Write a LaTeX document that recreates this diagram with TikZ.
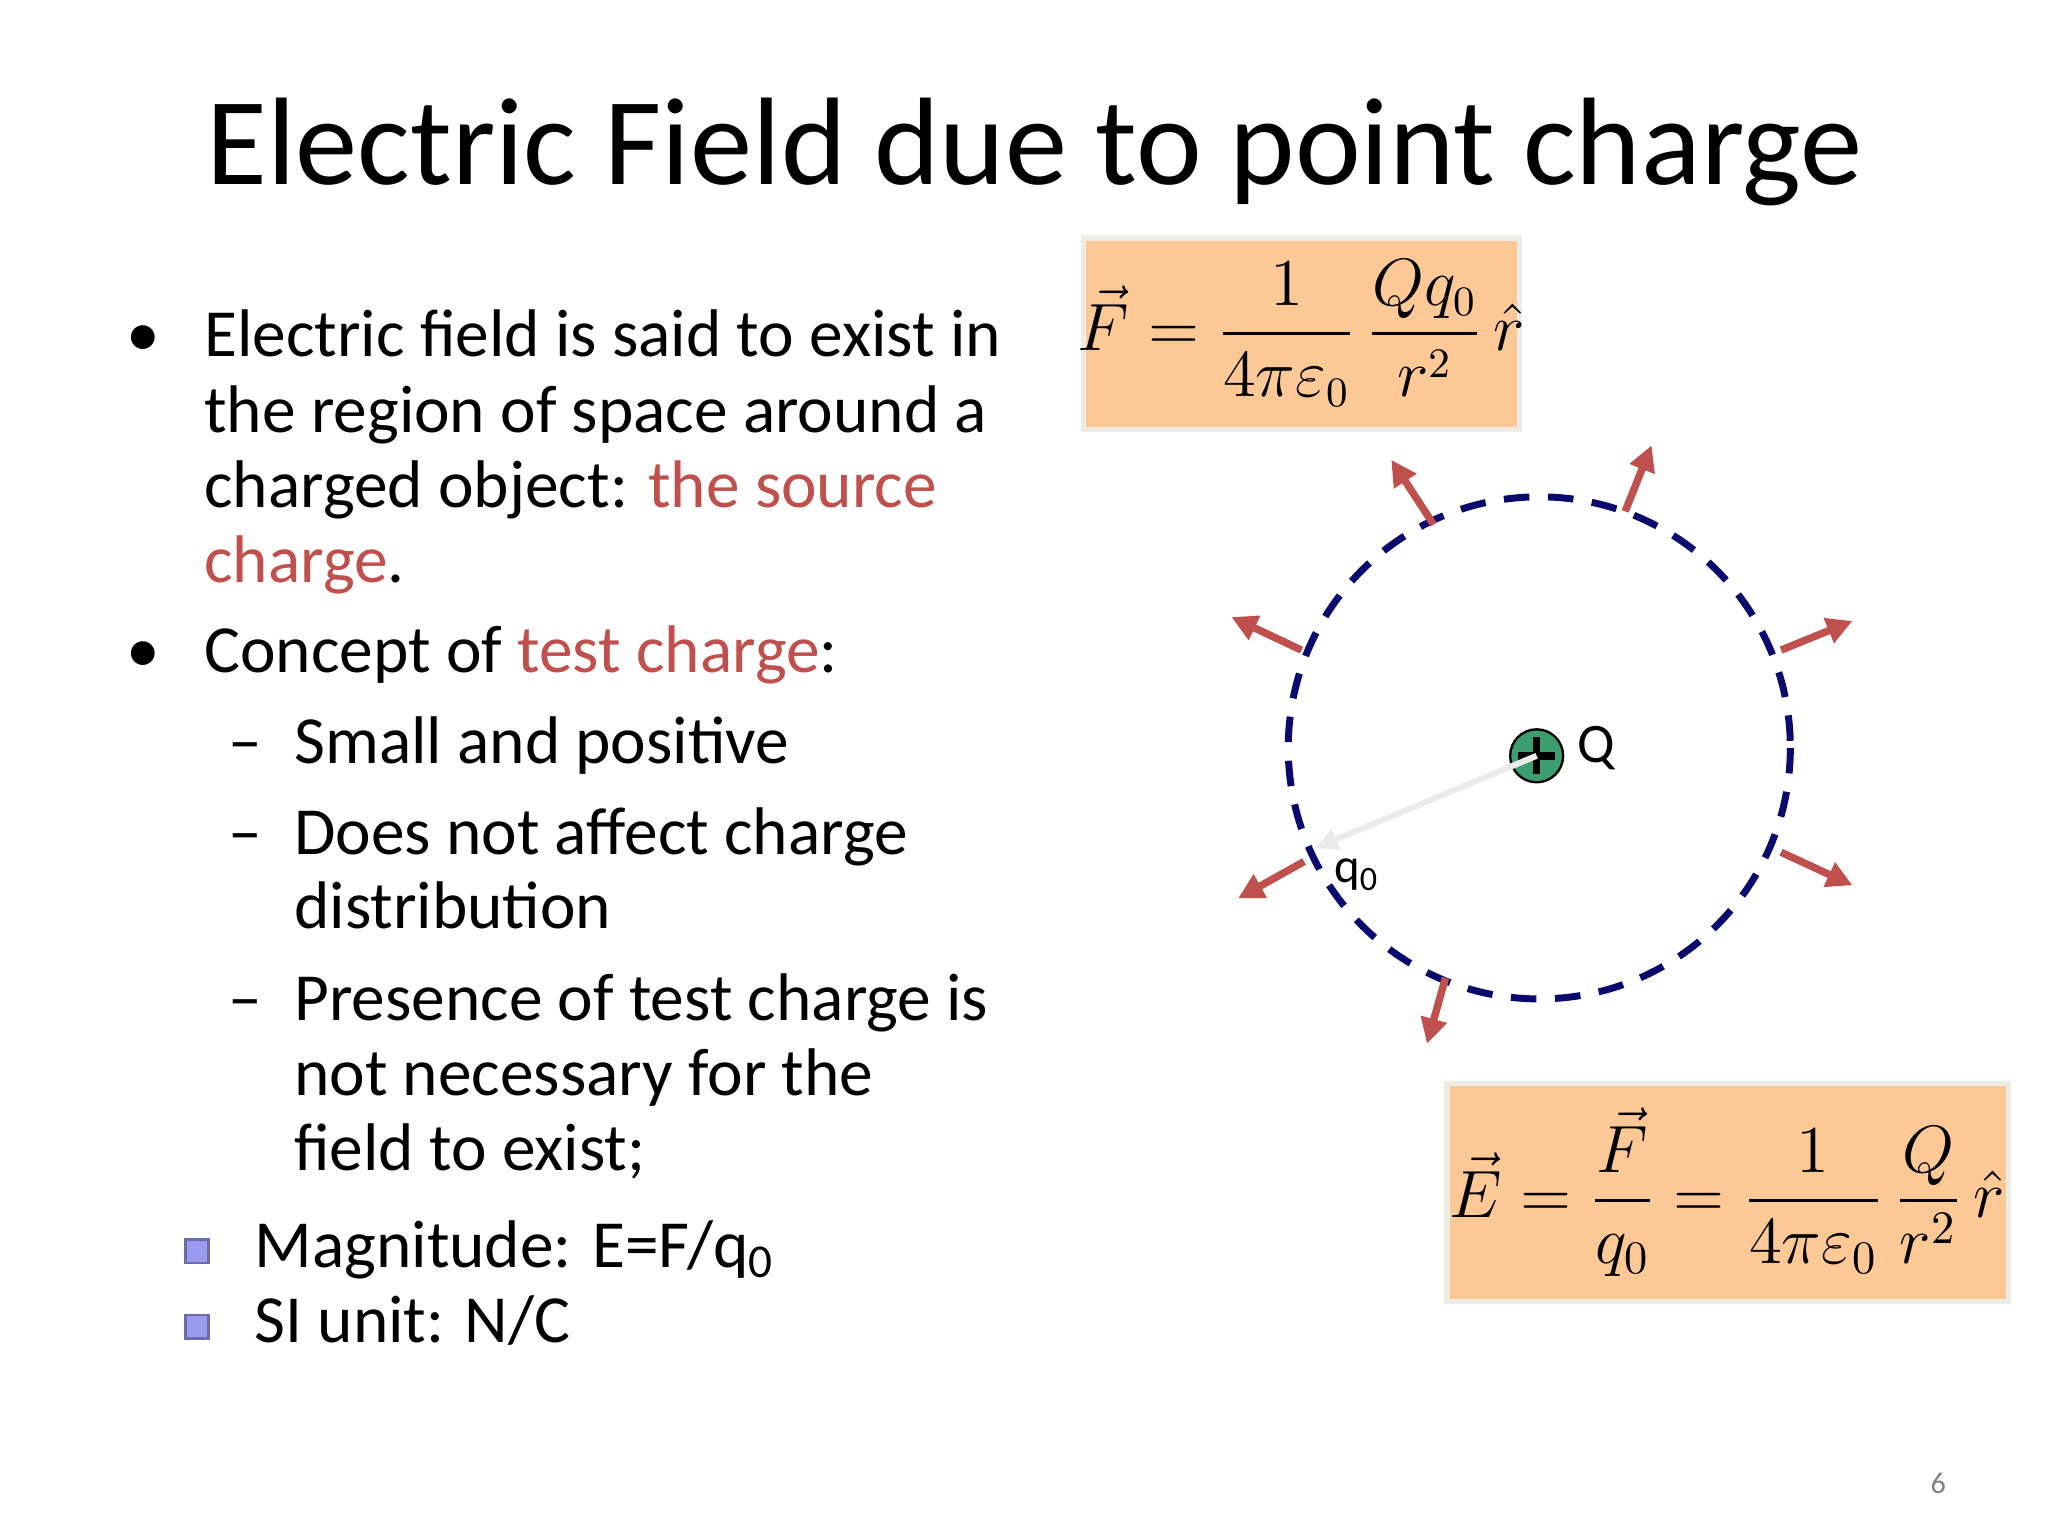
\documentclass[tikz,border=0pt]{standalone}
\usepackage{amsmath}
\usepackage{fontspec}
\setmainfont{Carlito}
\usetikzlibrary{arrows.meta}
\definecolor{accent}{HTML}{C0504D}
\definecolor{boxfill}{HTML}{FCC896}
\definecolor{boxline}{HTML}{EDEDE6}
\definecolor{navy}{HTML}{0A0A6E}
\definecolor{qgreen}{HTML}{3A9E6E}
\definecolor{sqb}{HTML}{9A9AF0}
\begin{document}
\begin{tikzpicture}[x=0.01cm,y=-0.01cm,
  body/.style={anchor=base west,inner sep=0pt,font=\fontsize{14.5}{16}\selectfont},
  fbox/.style={draw=boxline,line width=1.2pt,fill=boxfill},
  sqbul/.style={draw=sqb!70!black,fill=sqb,minimum size=5pt,inner sep=0pt,line width=0.6pt},
  farrow/.style={draw=accent,line width=1.6pt,-{Triangle[length=5.5pt,width=5.5pt]}}]
\useasboundingbox (0,0) rectangle (1550,1162);
\node[inner sep=0pt,font=\fontsize{26.8}{30}\selectfont] (title) at (783,115) {Electric Field due to point charge};
% bullets
\node[body] (d1) at (95,270) {•};
\node[body] (l1) at (154,270) {Electric field is said to exist in};
\node[body] (l2) at (154,327) {the region of space around a};
\node[body] (l3) at (154,384) {charged object: \textcolor{accent}{the source}};
\node[body] (l4) at (154,441) {\textcolor{accent}{charge}.};
\node[body] (d2) at (95,509) {•};
\node[body] (l5) at (154,509) {Concept of \textcolor{accent}{test charge}:};
\node[body] (s1d) at (172,578) {–};
\node[body] (s1) at (222,578) {Small and positive};
\node[body] (s2d) at (172,647) {–};
\node[body] (s2) at (222,647) {Does not affect charge};
\node[body] (s2b) at (222,703) {distribution};
\node[body] (s3d) at (172,772) {–};
\node[body] (s3) at (222,772) {Presence of test charge is};
\node[body] (s3b) at (222,829) {not necessary for the};
\node[body] (s3c) at (222,886) {field to exist;};
\node[sqbul] (sq1) at (149,947) {};
\node[body] (m1) at (192,959) {Magnitude: E=F/q$_{\mathrm 0}$};
\node[sqbul] (sq2) at (149,1004) {};
\node[body] (m2) at (192,1016) {SI unit: N/C};
% formula boxes
\draw[fbox] (820,180) rectangle (1150,325);
\node[inner sep=0pt,font=\fontsize{13.5}{16}\selectfont] (F) at (985,252) {$\vec F=\dfrac{1}{4\pi\varepsilon_0}\,\dfrac{Qq_0}{r^2}\,\hat r$};
\draw[fbox] (1095,820) rectangle (1520,985);
\node[inner sep=0pt,font=\fontsize{14.5}{17}\selectfont] (E) at (1307,902) {$\vec E=\dfrac{\vec F}{q_0}=\dfrac{1}{4\pi\varepsilon_0}\,\dfrac{Q}{r^2}\,\hat r$};
% circle
\coordinate (c) at (1165,566);
\draw[navy,line width=1.5pt,dash pattern=on 5.5pt off 4pt] (c) circle (190);
\foreach \i/\a/\b/\cc/\d in {1/1085/397/1053/348, 2/1230/387/1250/337, 3/985/492/932/467, 4/1348/492/1402/470, 5/987/652/937/680, 6/1348/645/1402/670, 7/1094/740/1080/790}{
  \coordinate (p\i) at (\a,\b); \coordinate (t\i) at (\cc,\d);
  \draw[farrow] (p\i) -- (t\i);
}
\coordinate (qpos) at (995,642);
\node[circle,draw=black,fill=qgreen,inner sep=0pt,line width=0.5pt,minimum size=11.4pt] (Q) at (1163,572) {};
\draw[line width=1.6pt] (1149,572) -- (1177,572) (1163,558) -- (1163,586);
\draw[draw=black!8,line width=1.3pt,-{Triangle[length=5pt,width=4.5pt]}] (Q.center) -- (qpos);
\node[inner sep=0pt,font=\fontsize{12}{14}\selectfont] (Ql) at (1208,566) {Q};
\node[inner sep=0pt,font=\fontsize{10.5}{12}\selectfont] (ql) at (1027,662) {q$_{\mathrm 0}$};
\node[inner sep=0pt,text=black!50,font=\fontsize{6.5}{8}\selectfont] (pg) at (1467,1123) {6};
\end{tikzpicture}
\end{document}
